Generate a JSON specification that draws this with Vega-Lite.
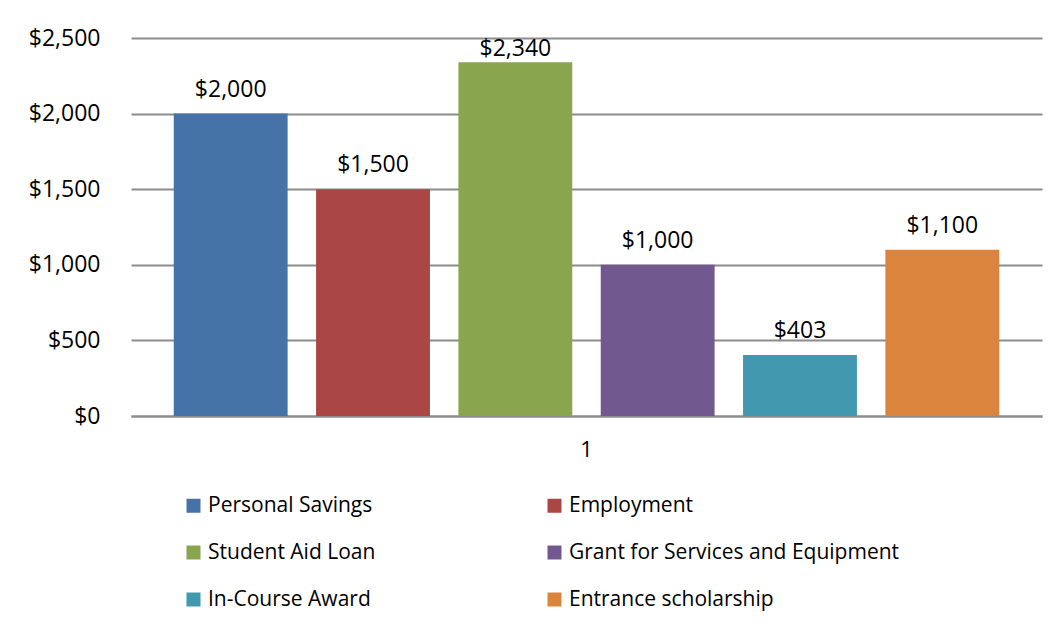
{
  "$schema": "https://vega.github.io/schema/vega-lite/v6.json",
  "width": 911,
  "height": 378,
  "autosize": {"type": "none"},
  "padding": {"left": 131, "top": 38, "right": 15, "bottom": 211},
  "background": "white",
  "config": {
    "view": {"stroke": null},
    "font": "Open Sans",
    "axis": {"labelFont": "Open Sans", "labelColor": "black"},
    "legend": {"labelFont": "Open Sans"}
  },
  "data": {
    "values": [
      {"cat": "1", "source": "Personal Savings", "amount": 2000},
      {"cat": "1", "source": "Employment", "amount": 1500},
      {"cat": "1", "source": "Student Aid Loan", "amount": 2340},
      {"cat": "1", "source": "Grant for Services and Equipment", "amount": 1000},
      {"cat": "1", "source": "In-Course Award", "amount": 403},
      {"cat": "1", "source": "Entrance scholarship", "amount": 1100}
    ]
  },
  "encoding": {
    "x": {
      "field": "cat", "type": "nominal", "title": null,
      "scale": {"paddingInner": 0, "paddingOuter": 0.0334},
      "axis": {"labelAngle": 0, "labelFontSize": 22, "labelPadding": 23, "ticks": false, "domainColor": "#8c8c8c", "domainWidth": 2}
    },
    "xOffset": {
      "field": "source", "type": "nominal",
      "sort": ["Personal Savings", "Employment", "Student Aid Loan", "Grant for Services and Equipment", "In-Course Award", "Entrance scholarship"],
      "scale": {"paddingInner": 0.2, "paddingOuter": 0.1}
    },
    "y": {
      "field": "amount", "type": "quantitative", "title": null,
      "scale": {"domain": [0, 2500], "nice": false},
      "axis": {"values": [0, 500, 1000, 1500, 2000, 2500], "format": "$,.0f", "labelFontSize": 23, "labelPadding": 31, "ticks": false, "domain": false, "gridColor": "#8c8c8c", "gridWidth": 2, "gridOpacity": 1}
    }
  },
  "layer": [
    {
      "mark": {"type": "bar"},
      "encoding": {
        "color": {
          "field": "source", "type": "nominal",
          "sort": ["Personal Savings", "Employment", "Student Aid Loan", "Grant for Services and Equipment", "In-Course Award", "Entrance scholarship"],
          "scale": {"range": ["#4572A7", "#AA4643", "#89A54E", "#71588F", "#4198AF", "#DB843D"]},
          "legend": {
            "title": null, "orient": "none", "legendX": 52, "legendY": 457,
            "direction": "horizontal", "columns": 2,
            "symbolType": "square", "symbolSize": 196, "symbolStrokeWidth": 0, "symbolOpacity": 1,
            "labelFontSize": 21, "labelColor": "black", "labelOffset": 4, "labelLimit": 400,
            "columnPadding": 168, "rowPadding": 25
          }
        }
      }
    },
    {
      "transform": [{"filter": "datum.amount <= 2250"}],
      "mark": {"type": "text", "baseline": "bottom", "dy": -12, "fontSize": 23, "color": "black"},
      "encoding": {
        "text": {"field": "amount", "type": "quantitative", "format": "$,.0f"}
      }
    },
    {
      "transform": [{"filter": "datum.amount > 2250"}],
      "mark": {"type": "text", "baseline": "bottom", "dy": -1, "fontSize": 23, "color": "black"},
      "encoding": {
        "text": {"field": "amount", "type": "quantitative", "format": "$,.0f"}
      }
    }
  ]
}
